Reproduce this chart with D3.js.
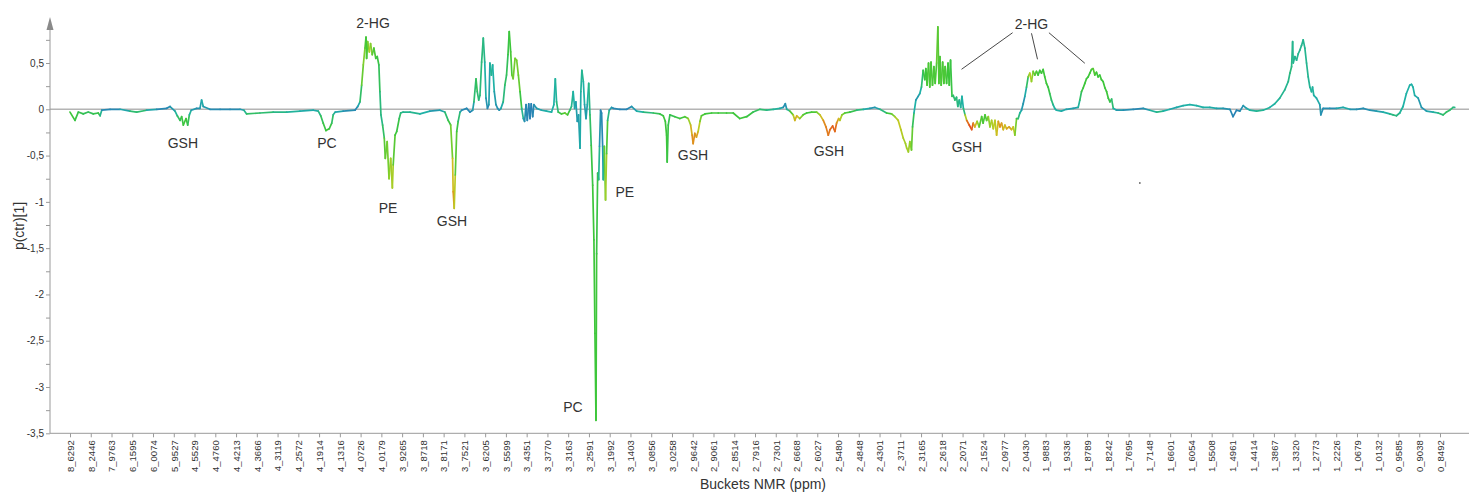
<!DOCTYPE html>
<html><head><meta charset="utf-8">
<script src="https://cdn.jsdelivr.net/npm/d3@7"></script>
<style>body{margin:0;background:#fff} svg{display:block} text{font-family:"Liberation Sans",Arial,sans-serif}</style>
</head><body><svg id="chart" width="1469" height="493"></svg>
<script>
// X tick labels (one every 10 buckets)
const tickLabels = ["8_6292","8_2446","7_9763","6_1595","6_0074","5_9527","4_5529","4_4760","4_4213","4_3666","4_3119","4_2572","4_1914","4_1316","4_0726","4_0179","3_9265","3_8718","3_8171","3_7521","3_6205",
"3_5599","3_4351","3_3770","3_3163","3_2591","3_1992","3_1403","3_0856","3_0258","2_9642","2_9061","2_8514","2_7916","2_7301","2_6668","2_6027","2_5480","2_4848","2_4301","2_3711","2_3165","2_2618","2_2071",
"2_1524","2_0977","2_0430","1_9883","1_9336","1_8789","1_8242","1_7695","1_7148","1_6601","1_6054","1_5508","1_4961","1_4414","1_3867","1_3320","1_2773","1_2226","1_0679","1_0132","0_9585","0_9038","0_8492"];

// bucket index of each point
const buckets = [
0,2.4,4.0,6.4,8.8,11.2,13.6,14.5,15.3,19.3,24.1,28.9,32.1,36.9,41.8,46.6,48.2,50.6,51.7,53.0,53.8,54.6,55.9,56.7,57.5,58.4,61.0,62.6,63.4,64.2,67.4,72.3,77.1,81.9,83.8,85.1,91.5,97.9,104.4,110.8,117.2,119.6,120.8,122.0,123.3,124.9,126.1,126.8,127.8,131.6,137.3,138.6,139.7,140.5,141.3,142.1,142.6,142.9,143.4,144.2,144.8,145.6,146.4,147.3,148.0,148.8,149.3,149.8,150.6,151.4,151.9,152.8,153.7,154.5,155.3,155.7,156.6,157.4,158.6,159.3,
160.5,163.8,168.6,173.4,178.2,180.6,182.2,183.4,184.3,184.6,185.1,185.6,186.3,187.0,187.9,188.7,191.1,192.7,194.0,194.6,195.6,196.2,196.9,197.5,198.3,199.1,199.8,200.4,201.1,201.8,202.3,203.0,203.6,204.4,205.2,206.0,206.8,207.6,208.7,209.5,210.3,211.0,211.6,212.3,212.9,213.5,214.4,215.2,216.0,216.8,217.6,218.4,219.0,219.7,220.3,221.0,221.6,222.2,222.9,223.5,224.8,227.2,229.6,232.0,233.1,233.8,234.4,235.2,236.8,238.4,239.7,240.8,241.6,242.4,243.1,243.7,244.4,245.0,245.7,246.1,246.6,247.3,247.9,248.6,249.2,249.9,250.5,251.1,251.8,252.4,252.9,253.4,253.7,254.2,254.7,255.1,255.6,256.1,256.6,256.9,257.4,258.0,258.5,259.0,259.8,260.9,261.7,264.9,268.2,270.6,273.0,276.2,281.0,284.2,285.8,286.8,287.4,287.7,288.2,289.0,291.4,293.8,296.2,297.8,299.0,299.7,300.2,301.0,301.8,302.6,303.5,304.2,305.9,309.1,312.3,316.3,319.5,322.7,
326.0,329.1,332.4,335.6,338.8,342.0,343.6,344.6,345.3,346.8,348.4,349.2,350.1,351.6,353.2,354.9,357.3,359.7,361.3,362.9,364.2,365.3,366.1,367.4,368.5,369.3,370.3,370.9,371.9,373.3,375.7,379.0,382.2,385.4,387.8,390.2,393.4,395.8,397.4,399.0,400.3,401.4,402.5,403.1,403.9,404.6,405.4,405.9,406.6,407.5,408.6,409.4,410.2,411.0,411.8,412.3,412.9,413.6,414.2,414.8,415.5,416.2,416.8,417.5,418.1,418.6,419.1,419.7,420.4,421.0,421.6,422.3,423.0,423.6,424.2,424.9,425.5,426.3,427.1,427.7,428.4,429.1,429.7,430.4,431.2,432.0,433.2,434.4,435.1,435.9,437.0,438.0,439.2,439.9,440.8,441.6,442.4,443.2,444.0,444.8,445.6,446.4,447.2,448.0,448.8,449.6,450.4,451.2,452.4,453.6,454.4,455.2,456.0,456.8,457.6,458.4,459.2,460.0,460.8,461.6,462.4,463.2,464.0,464.8,465.6,466.4,467.2,468.0,468.8,469.6,470.4,471.2,472.0,472.8,473.6,474.4,475.2,477.6,480.0,483.3,485.7,486.5,487.3,488.1,488.9,489.7,490.5,491.3,492.1,
492.9,493.7,494.5,495.3,496.1,496.9,497.7,498.6,499.4,500.2,501.0,501.8,502.6,504.2,507.4,512.2,517.0,520.2,523.5,526.6,529.9,533.1,536.3,539.5,542.7,545.9,549.1,552.4,555.5,558.8,560.3,562.0,563.6,565.2,566.8,568.4,571.6,574.8,578.0,580.4,582.8,585.2,586.9,587.7,588.5,589.0,589.3,590.1,590.9,591.7,592.5,593.3,594.1,594.9,595.7,596.5,597.3,598.1,598.6,599.2,600.5,602.1,602.6,603.7,606.9,610.1,613.3,616.6,619.8,623.0,626.2,629.4,632.6,635.8,637.4,639.0,640.6,642.2,643.8,645.4,646.3,647.0,647.8,649.5,651.1,653.5,656.7,659.1,661.5,663.1,664.7,666.3,667.1];

// p(ctr)[1] loading values
const loadings = [
-0.03,-0.12,-0.03,-0.05,-0.03,-0.05,-0.04,-0.07,-0.01,0,0,-0.02,-0.03,-0.01,0,0.01,0.03,-0.02,-0.07,-0.12,-0.08,-0.17,-0.10,-0.17,-0.06,-0.01,0.01,0.01,0.10,0.03,0,0,0,0,-0.01,-0.05,-0.04,-0.03,-0.03,-0.02,-0.01,-0.02,-0.07,-0.15,-0.23,-0.21,-0.15,-0.06,-0.03,-0.02,-0.01,0.03,0.08,0.26,0.48,0.66,0.78,0.55,0.73,0.62,0.71,0.59,0.66,0.55,0.57,0.48,0.19,-0.06,-0.17,-0.31,-0.53,-0.35,-0.75,-0.53,-0.85,-0.60,-0.28,-0.24,-0.10,-0.04,
-0.03,-0.03,-0.05,-0.02,-0.01,-0.03,-0.12,-0.17,-0.53,-0.89,-1.07,-0.71,-0.24,-0.13,-0.03,-0.01,0.01,-0.03,-0.01,0.08,0.33,0.19,0.10,0.15,0.51,0.77,0.51,0.12,0.01,0.05,0.50,0.37,0.48,0.19,0.05,0.01,-0.01,0.01,0.08,0.26,0.37,0.59,0.84,0.62,0.37,0.33,0.55,0.53,0.37,0.19,0.01,-0.10,-0.13,0.05,-0.12,0.06,-0.10,0.06,-0.08,0.05,0.01,-0.01,-0.02,-0.03,0.05,0.33,0.08,-0.03,-0.05,-0.04,-0.06,-0.01,0.03,0.19,0.01,0.08,-0.13,-0.06,-0.42,0.19,0.42,0.30,0.05,-0.10,0.05,0.28,-0.06,-0.39,-0.82,-1.41,-2.42,-3.36,-1.56,-0.69,-0.76,-0.40,-0.01,-0.04,-0.40,-0.76,-0.40,-0.98,-0.48,-0.12,-0.01,0.02,0.01,0,0,0.03,-0.02,-0.03,-0.04,-0.05,-0.07,-0.13,-0.28,-0.57,-0.17,-0.06,-0.08,-0.10,-0.08,-0.10,-0.17,-0.28,-0.37,-0.26,-0.30,-0.24,-0.13,-0.07,-0.05,-0.04,-0.04,-0.04,-0.04,-0.10,
-0.08,-0.03,0,-0.01,0,0.01,0.02,0.06,0,-0.02,-0.06,-0.12,-0.07,-0.10,-0.06,-0.04,-0.03,-0.03,-0.06,-0.12,-0.19,-0.28,-0.22,-0.18,-0.24,-0.15,-0.10,-0.12,-0.06,-0.04,-0.03,-0.01,0,0.01,0.02,0,-0.04,-0.05,-0.08,-0.12,-0.22,-0.31,-0.37,-0.42,-0.46,-0.35,-0.44,-0.19,-0.04,0.10,0.14,0.17,0.24,0.42,0.32,0.44,0.26,0.50,0.24,0.51,0.26,0.46,0.28,0.50,0.89,0.28,0.57,0.26,0.51,0.28,0.46,0.28,0.50,0.26,0.53,0.14,0.15,0.10,0.13,0.03,0.10,0.02,0.14,0.01,-0.06,-0.12,-0.17,-0.22,-0.15,-0.19,-0.13,-0.19,-0.08,-0.15,-0.06,-0.12,-0.08,-0.19,-0.12,-0.21,-0.12,-0.28,-0.13,-0.19,-0.15,-0.22,-0.17,-0.21,-0.19,-0.22,-0.19,-0.28,-0.10,-0.10,-0.04,-0.01,0.06,0.14,0.24,0.35,0.39,0.30,0.41,0.37,0.41,0.37,0.42,0.39,0.43,0.35,0.28,0.24,0.17,0.10,0.05,0.01,-0.01,-0.02,0,0.01,0.02,0.10,0.19,0.23,0.28,0.33,0.35,0.39,0.43,
0.44,0.37,0.40,0.35,0.37,0.32,0.30,0.23,0.19,0.12,0.08,0.11,0.01,-0.01,-0.01,0,0.01,-0.01,-0.03,-0.02,0,0.02,0.04,0.05,0.04,0.02,0.02,0.01,0.01,0,-0.08,-0.01,-0.02,0.04,0.01,-0.01,-0.02,-0.01,0.02,0.06,0.12,0.21,0.30,0.39,0.46,0.73,0.50,0.57,0.53,0.60,0.64,0.69,0.75,0.66,0.50,0.35,0.24,0.19,0.24,0.15,0.12,0.05,-0.06,0.01,0.01,0.01,0.02,0,0,0.01,-0.01,-0.02,-0.03,-0.05,-0.06,-0.07,-0.04,0.03,0.17,0.26,0.27,0.24,0.15,0.12,0.02,-0.02,-0.03,-0.04,-0.06,-0.03,-0.01,0.02,0.02];

// colour-coding value of each point (0 = blue ... 1 = red)
const colorVals = [
0.5,0.5,0.45,0.45,0.4,0.45,0.45,0.5,0.1,0.05,0.1,0.3,0.45,0.3,0.1,0.05,0.1,0.2,0.35,0.45,0.45,0.5,0.5,0.5,0.35,0.2,0.1,0.1,0.25,0.2,0.1,0.08,0.08,0.1,0.2,0.4,0.4,0.35,0.3,0.25,0.2,0.25,0.4,0.45,0.5,0.5,0.45,0.35,0.25,0.15,0.05,0.1,0.3,0.5,0.65,0.6,0.5,0.5,0.55,0.7,0.7,0.55,0.55,0.5,0.5,0.45,0.4,0.3,0.35,0.45,0.65,0.5,0.7,0.6,0.78,0.6,0.5,0.5,0.45,0.35,
0.3,0.3,0.3,0.2,0.1,0.3,0.45,0.5,0.7,0.85,0.85,0.6,0.5,0.45,0.3,0.1,0.05,0.1,0.05,0.3,0.45,0.4,0.35,0.35,0.35,0.35,0.3,0.2,0.05,0.1,0.25,0.3,0.3,0.2,0.15,0.1,0.1,0.15,0.3,0.4,0.4,0.45,0.5,0.5,0.55,0.6,0.6,0.6,0.6,0.55,0.4,0.2,0.15,0.05,0.1,0.05,0.05,0.05,0.05,0.1,0.15,0.2,0.25,0.25,0.25,0.25,0.3,0.4,0.5,0.55,0.6,0.4,0.3,0.3,0.2,0.2,0.15,0.15,0.2,0.25,0.3,0.3,0.2,0.15,0.2,0.3,0.35,0.45,0.5,0.5,0.5,0.5,0.5,0.45,0.4,0.2,0.05,0.05,0.1,0.2,0.4,0.75,0.6,0.45,0.2,0.15,0.1,0.05,0.05,0.1,0.2,0.3,0.4,0.45,0.5,0.5,0.5,0.5,0.45,0.45,0.45,0.5,0.5,0.6,0.75,0.85,0.88,0.85,0.85,0.8,0.65,0.55,0.5,0.5,0.5,0.5,0.5,0.5,
0.5,0.45,0.4,0.35,0.3,0.25,0.15,0.05,0.2,0.4,0.7,0.75,0.85,0.7,0.55,0.5,0.5,0.55,0.7,0.85,0.9,0.9,0.92,0.95,0.95,0.9,0.8,0.75,0.65,0.55,0.5,0.4,0.3,0.15,0.1,0.25,0.45,0.55,0.65,0.75,0.72,0.7,0.68,0.68,0.7,0.65,0.65,0.5,0.35,0.15,0.15,0.2,0.3,0.45,0.5,0.5,0.5,0.55,0.5,0.55,0.5,0.55,0.5,0.55,0.6,0.5,0.55,0.5,0.55,0.5,0.55,0.5,0.5,0.5,0.5,0.45,0.4,0.35,0.4,0.3,0.35,0.25,0.3,0.2,0.5,0.9,0.95,1.0,0.9,0.85,0.7,0.6,0.5,0.55,0.5,0.55,0.6,0.7,0.65,0.75,0.7,0.75,0.8,0.88,0.85,0.8,0.75,0.8,0.85,0.8,0.75,0.72,0.5,0.4,0.3,0.2,0.1,0.15,0.3,0.5,0.75,0.7,0.6,0.55,0.55,0.5,0.5,0.5,0.5,0.5,0.5,0.5,0.45,0.4,0.3,0.25,0.25,0.25,0.2,0.15,0.2,0.35,0.45,0.5,0.5,0.5,0.5,0.5,0.5,
0.55,0.55,0.5,0.5,0.5,0.5,0.5,0.5,0.5,0.5,0.45,0.45,0.3,0.2,0.1,0.1,0.05,0.2,0.35,0.3,0.2,0.2,0.25,0.25,0.25,0.25,0.25,0.2,0.15,0.1,0.05,0.05,0.1,0.1,0.2,0.25,0.3,0.3,0.25,0.25,0.3,0.3,0.3,0.35,0.35,0.3,0.3,0.3,0.3,0.3,0.3,0.3,0.3,0.3,0.3,0.3,0.28,0.28,0.28,0.25,0.25,0.2,0.1,0.1,0.1,0.1,0.3,0.15,0.1,0.1,0.1,0.15,0.2,0.3,0.35,0.35,0.3,0.25,0.25,0.25,0.25,0.25,0.25,0.2,0.1,0.15,0.25,0.3,0.4,0.4,0.4,0.35,0.3];

// Annotations (label, bucket, loading)
const annoText = ["2-HG","GSH","PC","PE","GSH","PC","PE","GSH","GSH","GSH","2-HG"];
const annoBucket = [146.0,54.4,123.8,153.2,184.0,242.3,267.3,300.1,365.6,432.1,463.2];
const annoValue = [0.878,-0.418,-0.418,-1.12,-1.26,-3.27,-0.947,-0.548,-0.504,-0.461,0.867];
// Leader lines for the right 2-HG label: [b1, v1, b2, v2]
const leaders = [[454.1,0.827,429.5,0.432],[463.2,0.821,466.1,0.540],[471.6,0.827,488.9,0.497]];

const svg = d3.select("#chart");
svg.append("rect").attr("width",1469).attr("height",493).attr("fill","#fff");

const x = d3.scaleLinear().domain([0,660]).range([70,1440]);
const y = d3.scaleLinear().domain([-3.5,0.5]).range([433.3,63]);
const color = d3.scaleLinear()
  .domain([0,0.25,0.5,0.65,0.75,0.88,1])
  .range(["#2a76b8","#1fb1a6","#3dc63a","#8fd02a","#cbc820","#e0891e","#e4401c"]);

const axisCol = "#9a9a9a";
const textCol = "#333";

// zero line
svg.append("line").attr("x1",50).attr("x2",1469).attr("y1",y(0)).attr("y2",y(0))
  .attr("stroke","#b4b4b4").attr("stroke-width",1.5);

// Y axis
const yTickVals = d3.range(-14,4).map(i => i*0.25);
const yAxis = d3.axisLeft(y).tickValues(yTickVals).tickSize(4)
  .tickFormat(v => (Math.round(v*4) % 2 === 0) ? String(v).replace(".", ",") : "");
const gy = svg.append("g").attr("transform","translate(50,0)").call(yAxis);
gy.select(".domain").remove();
gy.selectAll("line").attr("stroke",axisCol);
gy.selectAll("text").attr("fill",textCol).style("font-size","10px").attr("x",-6);
svg.append("line").attr("x1",50).attr("x2",50).attr("y1",433.3).attr("y2",26).attr("stroke",axisCol).attr("stroke-width",1);
svg.append("path").attr("d","M46.5,30 L53.5,30 L50,17 Z").attr("fill","#8a8a8a");

// X axis
const xAxis = d3.axisBottom(x).tickValues(d3.range(0,661,10)).tickSize(4)
  .tickFormat((d,i) => tickLabels[i]);
const gx = svg.append("g").attr("transform","translate(0,433.3)").call(xAxis);
gx.select(".domain").remove();
gx.selectAll("line").attr("stroke",axisCol);
gx.selectAll("text").attr("fill",textCol).style("font-size","9.5px")
  .attr("transform","rotate(-90)").attr("text-anchor","end")
  .attr("x",-7).attr("y",0).attr("dy","0.35em");
svg.append("line").attr("x1",50).attr("x2",1469).attr("y1",433.3).attr("y2",433.3).attr("stroke",axisCol);

// axis titles
svg.append("text").attr("x",763).attr("y",489).attr("text-anchor","middle")
  .style("font-size","14px").attr("fill",textCol).text("Buckets NMR (ppm)");
svg.append("text").attr("transform","translate(24,226) rotate(-90)").attr("text-anchor","middle")
  .style("font-size","14px").attr("fill",textCol).text("p(ctr)[1]");

// data line (segment per pair, coloured)
const n = Math.min(buckets.length, loadings.length, colorVals.length);
const segs = d3.range(n-1);
svg.append("g").selectAll("line").data(segs).join("line")
  .attr("x1", i => x(buckets[i])).attr("y1", i => y(loadings[i]))
  .attr("x2", i => x(buckets[i+1])).attr("y2", i => y(loadings[i+1]))
  .attr("stroke", i => color((colorVals[i]+colorVals[i+1])/2))
  .attr("stroke-width",1.7).attr("stroke-linecap","round");

// annotations
svg.append("g").selectAll("text").data(annoText).join("text")
  .attr("x",(d,i) => x(annoBucket[i])).attr("y",(d,i) => y(annoValue[i]))
  .attr("text-anchor","middle").style("font-size","14px").attr("fill",textCol).text(d => d);
svg.append("g").selectAll("line").data(leaders).join("line")
  .attr("x1",d => x(d[0])).attr("y1",d => y(d[1])).attr("x2",d => x(d[2])).attr("y2",d => y(d[3]))
  .attr("stroke","#333").attr("stroke-width",0.9);

// small stray mark
svg.append("circle").attr("cx",x(515.4)).attr("cy",y(-0.796)).attr("r",0.9).attr("fill","#666");
</script></body></html>
